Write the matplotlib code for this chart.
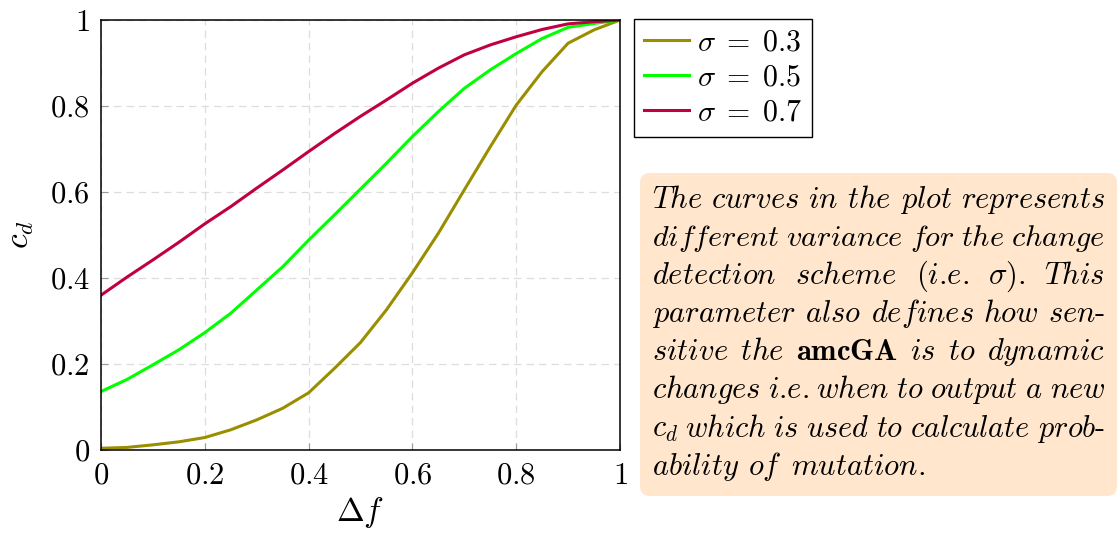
import numpy as np
import matplotlib
matplotlib.use('Agg')
import matplotlib.pyplot as plt
from matplotlib.patches import FancyBboxPatch
from matplotlib.transforms import IdentityTransform

plt.rcParams['font.family'] = 'serif'
plt.rcParams['font.serif'] = ['cmr10']
plt.rcParams['mathtext.fontset'] = 'cm'
plt.rcParams['axes.unicode_minus'] = False

# change-detection curves c_d(delta f) for three variances
delta_f = [0.0, 0.05, 0.1, 0.15, 0.2, 0.25, 0.3, 0.35, 0.4, 0.45, 0.5,
           0.55, 0.6, 0.65, 0.7, 0.75, 0.8, 0.85, 0.9, 0.95, 1.0]
cd_s03 = [0.004, 0.006, 0.012, 0.019, 0.029, 0.047, 0.070, 0.097, 0.133, 0.190, 0.250,
          0.326, 0.412, 0.504, 0.605, 0.705, 0.802, 0.880, 0.946, 0.977, 1.0]
cd_s05 = [0.136, 0.164, 0.198, 0.233, 0.273, 0.318, 0.372, 0.426, 0.488, 0.547, 0.607,
          0.667, 0.729, 0.787, 0.841, 0.884, 0.922, 0.957, 0.983, 0.992, 1.0]
cd_s07 = [0.360, 0.402, 0.442, 0.483, 0.526, 0.566, 0.609, 0.651, 0.694, 0.736, 0.776,
          0.814, 0.853, 0.888, 0.919, 0.942, 0.961, 0.978, 0.991, 0.996, 1.0]
labels = [r'$\sigma\;=\;0.3$', r'$\sigma\;=\;0.5$', r'$\sigma\;=\;0.7$']
colors = ['#998e00', '#00ff00', '#c00040']

ticks = [0, 0.2, 0.4, 0.6, 0.8, 1]
tick_labels = ['$0$', '$0.2$', '$0.4$', '$0.6$', '$0.8$', '$1$']

W, H = 1119, 534
fig = plt.figure(figsize=(W / 100, H / 100), dpi=100)
ax = fig.add_axes([101 / W, 1 - 450 / H, 519 / W, 430 / H])

for ys, lab, c in zip([cd_s03, cd_s05, cd_s07], labels, colors):
    ax.plot(delta_f, ys, color=c, lw=2.2, label=lab, solid_joinstyle='round')

ax.set_xlim(0, 1)
ax.set_ylim(0, 1)
ax.set_xticks(ticks)
ax.set_yticks(ticks)
ax.set_xticklabels(tick_labels, fontsize=22)
ax.set_yticklabels(tick_labels, fontsize=22)
ax.tick_params(direction='in', length=5, color='#999999')
ax.tick_params(axis='x', pad=9)
ax.tick_params(axis='y', pad=8)
ax.grid(True, color='#dddddd', ls=(0, (6, 4)), lw=0.9)
ax.set_axisbelow(True)
for sp in ax.spines.values():
    sp.set_linewidth(1.1)
ax.set_xlabel(r'$\Delta f$', fontsize=24, labelpad=4)
ax.set_ylabel(r'$c_d$', fontsize=24, labelpad=10)

leg = ax.legend(loc='upper left', bbox_to_anchor=(634 / W, 1 - 19 / H),
                bbox_transform=fig.transFigure, fontsize=21.5, fancybox=False,
                edgecolor='black', framealpha=1, handlelength=1.5,
                handletextpad=0.25, labelspacing=0.24, borderpad=0.35,
                borderaxespad=0)
leg.get_frame().set_linewidth(1.0)

# note box on the right (pixel coordinates)
box = FancyBboxPatch((640, H - 496), 477, 323,
                     boxstyle='round,pad=0,rounding_size=10',
                     transform=IdentityTransform(), facecolor='#ffe6cc',
                     edgecolor='none')
fig.patches.append(box)

def it(w):
    return r'$\mathit{' + w + '}$'

ie = it('i') + '.' + it('e') + '.'

note = [
    [it('The'), it('curves'), it('in'), it('the'), it('plot'), it('represents')],
    [it('different'), it('variance'), it('for'), it('the'), it('change')],
    [it('detection'), it('scheme'), '(' + ie, r'$\sigma$).', it('This')],
    [it('parameter'), it('also'), it('defines'), it('how'), it('sen') + '-'],
    [it('sitive'), it('the'), r'$\mathbf{amcGA}$', it('is'), it('to'), it('dynamic')],
    [it('changes'), ie, it('when'), it('to'), it('output'), it('a'), it('new')],
    [r'$c_d$', it('which'), it('is'), it('used'), it('to'), it('calculate'), it('prob') + '-'],
    [it('ability'), it('of'), it('mutation') + '.'],
]

renderer = fig.canvas.get_renderer()
left, right = 652, 1105
first_base, pitch = 208, 38.1
min_gap = 7
for i, words in enumerate(note):
    fs = 22
    ts = [fig.text(0, 0, w, fontsize=fs, va='baseline', ha='left') for w in words]
    widths = [t.get_window_extent(renderer).width for t in ts]
    need = sum(widths) + min_gap * (len(words) - 1)
    if need > right - left:
        # squeeze an over-long line so it still fits the box
        fs *= (right - left - min_gap * (len(words) - 1)) / sum(widths)
        for t in ts:
            t.set_fontsize(fs)
        widths = [t.get_window_extent(renderer).width for t in ts]
    if i == len(note) - 1:
        gap = 9
    else:
        gap = (right - left - sum(widths)) / (len(words) - 1)
    x = left
    y = first_base + i * pitch
    for t, w in zip(ts, widths):
        t.set_position((x / W, 1 - y / H))
        x += w + gap

fig.savefig('out.png', dpi=100)
